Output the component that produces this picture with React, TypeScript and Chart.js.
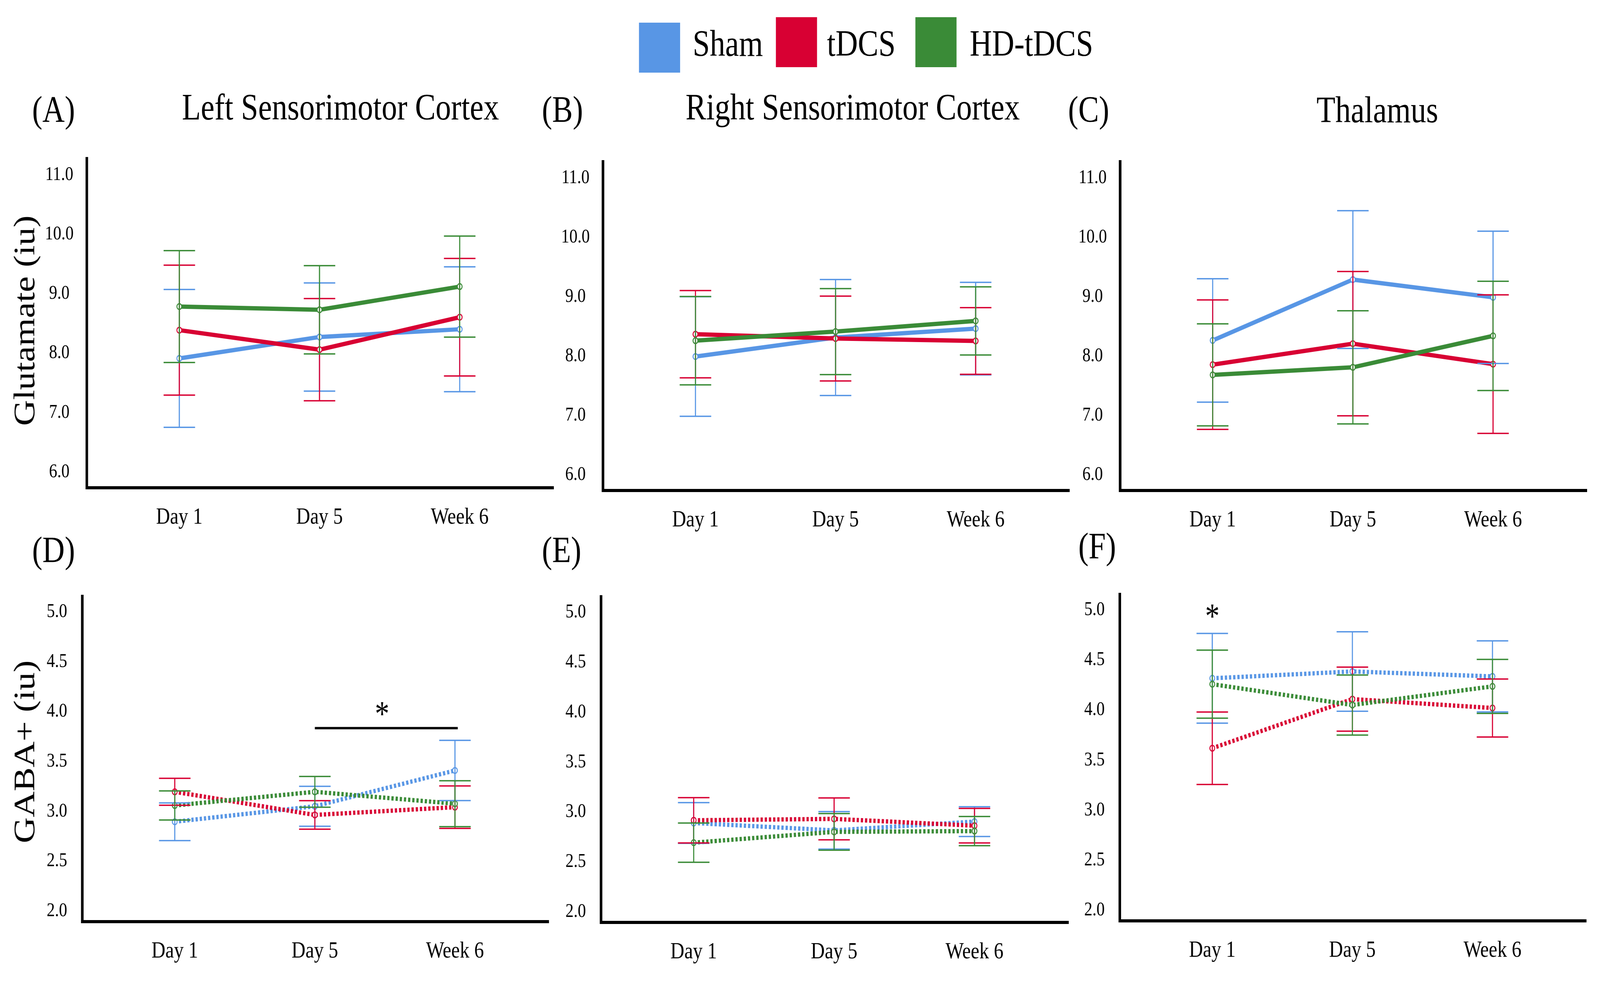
import React, { useEffect, useRef, useState } from 'react';
import { Chart, registerables } from 'chart.js';

Chart.register(...registerables);

const FONT = '"Liberation Serif", "Times New Roman", Times, serif';
const DESIGN_W = 4978;
const DESIGN_H = 2512;

// ---------- categories / labels ----------
const timepoints = ['Day 1', 'Day 5', 'Week 6'];
const groupNames = ['Sham', 'tDCS', 'HD-tDCS'];
const groupColors = ['#5896e5', '#d80033', '#3a8b37'];
const gluTicks = [6, 7, 8, 9, 10, 11];
const gabaTicks = [2, 2.5, 3, 3.5, 4, 4.5, 5];

// ---------- (A) Left Sensorimotor Cortex, Glutamate ----------
const leftGluSham = [7.91, 8.27, 8.40];
const leftGluShamErr = [1.16, 0.91, 1.05];
const leftGluTdcs = [8.385, 8.057, 8.603];
const leftGluTdcsErr = [1.093, 0.86, 0.989];
const leftGluHd = [8.782, 8.728, 9.118];
const leftGluHdErr = [0.941, 0.742, 0.85];

// ---------- (B) Right Sensorimotor Cortex, Glutamate ----------
const rightGluSham = [7.99, 8.31, 8.46];
const rightGluShamErr = [1.007, 0.977, 0.78];
const rightGluTdcs = [8.366, 8.293, 8.252];
const rightGluTdcsErr = [0.735, 0.715, 0.562];
const rightGluHd = [8.257, 8.41, 8.59];
const rightGluHdErr = [0.744, 0.725, 0.574];

// ---------- (C) Thalamus, Glutamate ----------
const thalGluSham = [8.261, 9.286, 8.987];
const thalGluShamErr = [1.04, 1.16, 1.115];
const thalGluTdcs = [7.853, 8.207, 7.862];
const thalGluTdcsErr = [1.09, 1.215, 1.167];
const thalGluHd = [7.681, 7.808, 8.338];
const thalGluHdErr = [0.86, 0.953, 0.92];

// ---------- (D) Left Sensorimotor Cortex, GABA+ ----------
const leftGabaSham = [2.895, 3.05, 3.409];
const leftGabaShamErr = [0.189, 0.2, 0.302];
const leftGabaTdcs = [3.195, 2.963, 3.041];
const leftGabaTdcsErr = [0.135, 0.143, 0.213];
const leftGabaHd = [3.058, 3.195, 3.076];
const leftGabaHdErr = [0.146, 0.154, 0.23];

// ---------- (E) Right Sensorimotor Cortex, GABA+ ----------
const rightGabaSham = [2.889, 2.815, 2.903];
const rightGabaShamErr = [0.204, 0.188, 0.149];
const rightGabaTdcs = [2.916, 2.93, 2.862];
const rightGabaTdcsErr = [0.227, 0.21, 0.173];
const rightGabaHd = [2.692, 2.8, 2.808];
const rightGabaHdErr = [0.197, 0.183, 0.146];

// ---------- (F) Thalamus, GABA+ ----------
const thalGabaSham = [4.317, 4.385, 4.336];
const thalGabaShamErr = [0.448, 0.397, 0.355];
const thalGabaTdcs = [3.618, 4.109, 4.02];
const thalGabaTdcsErr = [0.362, 0.32, 0.29];
const thalGabaHd = [4.258, 4.05, 4.236];
const thalGabaHdErr = [0.34, 0.3, 0.27];

// ---------- significance annotations (data coordinates) ----------
const sigBarsD = [{ x0: 1.0, x1: 2.02, y: 3.834 }];
const sigStarsD = [{ x: 1.48, y: 4.03 }];
const sigStarsF = [{ x: 0, y: 4.99 }];

// ---------- layout (pixel rectangles of plot areas) ----------
type PanelCfg = {
  left: number; right: number; top: number; bottom: number;
  means: number[][]; errs: number[][];
  ticks: number[]; ymin: number; ymax: number;
  dotted: boolean; yPad: number;
  bars?: { x0: number; x1: number; y: number }[];
  stars?: { x: number; y: number }[];
};

const GLU_MIN = 5.733, GLU_MAX = 11.275;
const GABA_MIN = 1.893, GABA_MAX = 5.157;

const panels: PanelCfg[] = [
  { left: 270, right: 1723, top: 352, bottom: 1249,
    means: [leftGluSham, leftGluTdcs, leftGluHd], errs: [leftGluShamErr, leftGluTdcsErr, leftGluHdErr],
    ticks: gluTicks, ymin: GLU_MIN, ymax: GLU_MAX, dotted: false, yPad: 33 },
  { left: 1876, right: 3328, top: 360, bottom: 1256,
    means: [rightGluSham, rightGluTdcs, rightGluHd], errs: [rightGluShamErr, rightGluTdcsErr, rightGluHdErr],
    ticks: gluTicks, ymin: GLU_MIN, ymax: GLU_MAX, dotted: false, yPad: 33 },
  { left: 3485, right: 4938, top: 360, bottom: 1256,
    means: [thalGluSham, thalGluTdcs, thalGluHd], errs: [thalGluShamErr, thalGluTdcsErr, thalGluHdErr],
    ticks: gluTicks, ymin: GLU_MIN, ymax: GLU_MAX, dotted: false, yPad: 33 },
  { left: 256, right: 1708, top: 1467, bottom: 2360,
    means: [leftGabaSham, leftGabaTdcs, leftGabaHd], errs: [leftGabaShamErr, leftGabaTdcsErr, leftGabaHdErr],
    ticks: gabaTicks, ymin: GABA_MIN, ymax: GABA_MAX, dotted: true, yPad: 39,
    bars: sigBarsD, stars: sigStarsD },
  { left: 1870, right: 3325, top: 1468, bottom: 2362,
    means: [rightGabaSham, rightGabaTdcs, rightGabaHd], errs: [rightGabaShamErr, rightGabaTdcsErr, rightGabaHdErr],
    ticks: gabaTicks, ymin: GABA_MIN, ymax: GABA_MAX, dotted: true, yPad: 39 },
  { left: 3484, right: 4936, top: 1462, bottom: 2358,
    means: [thalGabaSham, thalGabaTdcs, thalGabaHd], errs: [thalGabaShamErr, thalGabaTdcsErr, thalGabaHdErr],
    ticks: gabaTicks, ymin: GABA_MIN, ymax: GABA_MAX, dotted: true, yPad: 39,
    stars: sigStarsF },
];

const Y_AREA = 230;
const X_AREA = 140;
const PAD = 10;
const CAP_HALF = 49;
const AXIS_W = 8;

const errorBarPlugin = {
  id: 'errorBars',
  afterDatasetsDraw(chart: any) {
    const { ctx } = chart;
    const xs = chart.scales.x;
    const ys = chart.scales.y;
    chart.data.datasets.forEach((ds: any) => {
      const errs: number[] = ds.errors;
      if (!errs) return;
      ctx.save();
      ctx.strokeStyle = ds.borderColor;
      ctx.lineWidth = 3.5;
      ctx.lineCap = 'butt';
      ds.data.forEach((p: any, i: number) => {
        const px = xs.getPixelForValue(p.x);
        const yt = ys.getPixelForValue(p.y + errs[i]);
        const yb = ys.getPixelForValue(p.y - errs[i]);
        ctx.beginPath();
        ctx.moveTo(px, yt); ctx.lineTo(px, yb);
        ctx.moveTo(px - CAP_HALF, yt); ctx.lineTo(px + CAP_HALF, yt);
        ctx.moveTo(px - CAP_HALF, yb); ctx.lineTo(px + CAP_HALF, yb);
        ctx.stroke();
      });
      ctx.restore();
    });
  },
};

const sigPlugin = {
  id: 'sig',
  afterDraw(chart: any, _args: any, opts: any) {
    const { ctx, chartArea } = chart;
    const xs = chart.scales.x;
    const ys = chart.scales.y;
    ctx.save();
    // close the bottom-left corner where the two axis lines meet
    ctx.fillStyle = '#000';
    ctx.fillRect(chartArea.left - AXIS_W / 2, chartArea.bottom - AXIS_W / 2, AXIS_W, AXIS_W);
    (opts.bars || []).forEach((b: any) => {
      ctx.strokeStyle = '#000';
      ctx.lineWidth = 6;
      ctx.beginPath();
      const yy = ys.getPixelForValue(b.y);
      ctx.moveTo(xs.getPixelForValue(b.x0), yy);
      ctx.lineTo(xs.getPixelForValue(b.x1), yy);
      ctx.stroke();
    });
    (opts.stars || []).forEach((s: any) => {
      ctx.fillStyle = '#000';
      ctx.font = `90px ${FONT}`;
      ctx.textAlign = 'center';
      ctx.textBaseline = 'alphabetic';
      ctx.fillText('*', xs.getPixelForValue(s.x), ys.getPixelForValue(s.y) + 44);
    });
    ctx.restore();
  },
};

function Panel({ cfg }: { cfg: PanelCfg }) {
  const ref = useRef<HTMLCanvasElement>(null);
  const cLeft = cfg.left - Y_AREA;
  const cTop = cfg.top - PAD;
  const width = cfg.right - cLeft + PAD;
  const height = cfg.bottom - cfg.top + PAD + X_AREA;

  useEffect(() => {
    if (!ref.current) return;
    const order = [3, 2, 1];
    const datasets = cfg.means.map((m, gi) => ({
      label: groupNames[gi],
      data: m.map((v, i) => ({ x: i, y: v })),
      errors: cfg.errs[gi],
      borderColor: groupColors[gi],
      backgroundColor: groupColors[gi],
      borderWidth: 11,
      borderDash: cfg.dotted ? [7, 6] : [],
      borderCapStyle: 'butt',
      tension: 0,
      pointRadius: 7.5,
      pointBorderWidth: 3,
      pointBorderColor: groupColors[gi],
      pointBackgroundColor: '#ffffff',
      pointStyle: 'circle',
      order: order[gi],
      clip: false,
    }));
    const chart = new Chart(ref.current, {
      type: 'line',
      data: { datasets } as any,
      options: {
        animation: false,
        responsive: false,
        maintainAspectRatio: false,
        layout: { padding: { top: PAD, right: PAD, left: 0, bottom: 0 } },
        plugins: {
          legend: { display: false },
          tooltip: { enabled: false },
          title: { display: false },
          sig: { bars: cfg.bars || [], stars: cfg.stars || [] },
        } as any,
        scales: {
          x: {
            type: 'linear',
            min: -0.66,
            max: 2.67,
            grid: { display: false },
            border: { display: true, color: '#000', width: AXIS_W },
            afterBuildTicks: (s: any) => { s.ticks = timepoints.map((_, i) => ({ value: i })); },
            afterFit: (s: any) => { s.height = X_AREA; },
            ticks: {
              color: '#000',
              font: { family: FONT, size: 60 },
              padding: 32,
              maxRotation: 0,
              autoSkip: false,
              callback: (v: any) => timepoints[Math.round(Number(v))] ?? '',
            },
          },
          y: {
            type: 'linear',
            min: cfg.ymin,
            max: cfg.ymax,
            grid: { display: false },
            border: { display: true, color: '#000', width: AXIS_W },
            afterBuildTicks: (s: any) => { s.ticks = cfg.ticks.map((v) => ({ value: v })); },
            afterFit: (s: any) => { s.width = Y_AREA; },
            ticks: {
              color: '#000',
              font: { family: FONT, size: 51 },
              padding: cfg.yPad,
              crossAlign: 'center',
              autoSkip: false,
              callback: (v: any) => Number(v).toFixed(1),
            },
          },
        },
      } as any,
      plugins: [errorBarPlugin, sigPlugin],
    });
    return () => chart.destroy();
  }, [cfg]);

  return (
    <canvas
      ref={ref}
      width={width}
      height={height}
      style={{ position: 'absolute', left: cLeft, top: cTop, width, height }}
    />
  );
}

function Txt({ x, baseline, size, children }: { x: number; baseline: number; size: number; children: React.ReactNode }) {
  return (
    <div
      style={{
        position: 'absolute',
        left: x,
        top: baseline - 0.8375 * size,
        fontFamily: FONT,
        fontSize: size,
        lineHeight: 1,
        whiteSpace: 'nowrap',
        color: '#000',
      }}
    >
      {children}
    </div>
  );
}

function YTitle({ cx, cy, text }: { cx: number; cy: number; text: string }) {
  const size = 92;
  const w = 900;
  return (
    <div
      style={{
        position: 'absolute',
        left: cx - w / 2,
        top: cy - size / 2,
        width: w,
        height: size,
        fontFamily: FONT,
        fontSize: size,
        lineHeight: 1,
        textAlign: 'center',
        whiteSpace: 'nowrap',
        transform: 'rotate(-90deg)',
        transformOrigin: '50% 50%',
        color: '#000',
      }}
    >
      {text}
    </div>
  );
}

const legendBoxes = [
  { x: 1988, y: 58, tx: 2155 },
  { x: 2414, y: 44, tx: 2573 },
  { x: 2848, y: 44, tx: 3017 },
];

function getViewport() {
  return { w: window.innerWidth || DESIGN_W, h: window.innerHeight || DESIGN_H };
}

export default function App() {
  const [vp, setVp] = useState(getViewport());

  useEffect(() => {
    document.documentElement.style.overflow = 'hidden';
    document.body.style.overflow = 'hidden';
    document.body.style.margin = '0';
    const onResize = () => setVp(getViewport());
    window.addEventListener('resize', onResize);
    onResize();
    return () => window.removeEventListener('resize', onResize);
  }, []);

  const sx = vp.w / DESIGN_W;
  const sy = vp.h / DESIGN_H;

  return (
    <div
      style={{
        position: 'absolute',
        left: 0,
        top: 0,
        width: DESIGN_W,
        height: DESIGN_H,
        background: '#fff',
        overflow: 'hidden',
        transform: `scale(${sx}, ${sy})`,
        transformOrigin: '0 0',
      }}
    >
      {panels.map((p, i) => <Panel key={i} cfg={p} />)}

      {groupNames.map((g, i) => (
        <React.Fragment key={g}>
          <div style={{ position: 'absolute', left: legendBoxes[i].x, top: legendBoxes[i].y, width: 128, height: 128, background: groupColors[i] }} />
          <Txt x={legendBoxes[i].tx} baseline={143} size={96}>{g}</Txt>
        </React.Fragment>
      ))}

      <Txt x={100} baseline={312} size={96}>(A)</Txt>
      <Txt x={1686} baseline={312} size={96}>(B)</Txt>
      <Txt x={3323} baseline={312} size={96}>(C)</Txt>
      <Txt x={100} baseline={1440} size={96}>(D)</Txt>
      <Txt x={1686} baseline={1440} size={96}>(E)</Txt>
      <Txt x={3355} baseline={1430} size={96}>(F)</Txt>

      <Txt x={566} baseline={306} size={96}>Left Sensorimotor Cortex</Txt>
      <Txt x={2133} baseline={306} size={96}>Right Sensorimotor Cortex</Txt>
      <Txt x={4096} baseline={313} size={96}>Thalamus</Txt>

      <YTitle cx={76} cy={821} text="Glutamate (iu)" />
      <YTitle cx={76} cy={1925} text="GABA+ (iu)" />
    </div>
  );
}
